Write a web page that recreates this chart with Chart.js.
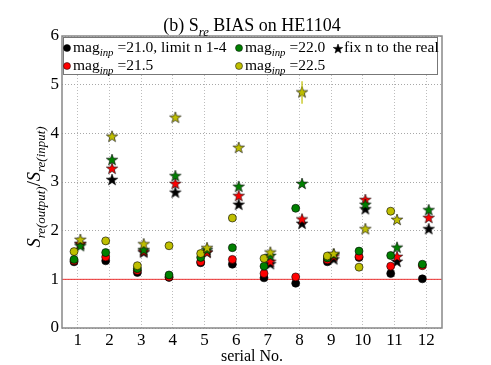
<!DOCTYPE html>
<html>
<head>
<meta charset="utf-8">
<script src="https://cdn.jsdelivr.net/npm/chart.js@4/dist/chart.umd.min.js"></script>
<style>
  body { margin: 0; background: #fff; }
  #wrap { width: 491px; height: 365px; }
</style>
</head>
<body>
<div id="wrap"><canvas id="chart" width="491" height="365"></canvas></div>
<script>
const serial = [1, 2, 3, 4, 5, 6, 7, 8, 9, 10, 11, 12];
const yTicks = [0, 1, 2, 3, 4, 5, 6];

// circles: free n (limit n 1-4)
const circ210 = [1.36, 1.38, 1.14, 1.04, 1.34, 1.31, 1.03, 0.92, 1.36, 1.45, 1.12, 1.01];
const circ215 = [1.38, 1.46, 1.18, 1.05, 1.36, 1.41, 1.12, 1.05, 1.40, 1.47, 1.27, 1.28];
const circ220 = [1.41, 1.55, 1.22, 1.09, 1.45, 1.65, 1.27, 2.46, 1.44, 1.58, 1.49, 1.31];
const circ225 = [1.57, 1.79, 1.28, 1.69, 1.53, 2.26, 1.43, null, 1.48, 1.25, 2.40, null];

// stars: fix n to the real
const star210 = [1.72, 3.04, 1.55, 2.78, 1.55, 2.53, 1.31, 2.14, 1.41, 2.44, 1.36, 2.03];
const star215 = [1.72, 3.27, 1.57, 2.96, 1.55, 2.71, 1.36, 2.23, 1.47, 2.63, 1.46, 2.26];
const star220 = [1.68, 3.45, 1.60, 3.12, 1.60, 2.90, 1.48, 2.96, 1.50, 2.53, 1.65, 2.42];
const star225 = [1.81, 3.93, 1.72, 4.32, 1.64, 3.70, 1.55, 4.84, 1.52, 2.03, 2.22, null];
const star225Err = [0, 0, 0, 0, 0, 0, 0, 0.23, 0, 0, 0, 0];
const circ220Err = [0, 0, 0, 0, 0, 0, 0, 0.06, 0, 0, 0, 0];

const COL = { k: "#000000", r: "#ff0000", g: "#008000", y: "#bfbf00" };
const SERIF = '"Liberation Serif", "DejaVu Serif", serif';

function starImage(fill, r) {
  const c = document.createElement("canvas");
  const size = Math.ceil(r * 2 + 2);
  c.width = size;
  c.height = size;
  const g = c.getContext("2d");
  const cx = size / 2, cy = size / 2;
  g.beginPath();
  for (let i = 0; i < 10; i++) {
    const rad = i % 2 === 0 ? r : r * 0.4;
    const a = -Math.PI / 2 + (i * Math.PI) / 5;
    const px = cx + rad * Math.cos(a), py = cy + rad * Math.sin(a);
    if (i === 0) g.moveTo(px, py); else g.lineTo(px, py);
  }
  g.closePath();
  g.fillStyle = fill;
  g.fill();
  g.lineWidth = 0.6;
  g.strokeStyle = "#000";
  g.stroke();
  return c;
}

const pts = (arr, dx) => serial.map((s, i) => ({ x: s + dx, y: arr[i] }));

function circleSet(arr, color, order) {
  return {
    type: "scatter", data: pts(arr, -0.12), order,
    pointStyle: "circle", pointRadius: 4, pointHoverRadius: 4,
    backgroundColor: color, borderColor: "#000", borderWidth: 0.6
  };
}
function starSet(arr, color, order) {
  return {
    type: "scatter", data: pts(arr, 0.08), order,
    pointStyle: starImage(color, 6), pointRadius: 6,
    backgroundColor: color, borderColor: "#000"
  };
}

function drawRich(ctx, parts, x, y, size, align) {
  const subSize = size * 0.7;
  const fonts = parts.map((p) => p.sub ? `italic ${subSize}px ${SERIF}` : `${p.it ? "italic " : ""}${size}px ${SERIF}`);
  let total = 0;
  const widths = parts.map((p, i) => { ctx.font = fonts[i]; const w = ctx.measureText(p.t).width; total += w; return w; });
  let cx = align === "center" ? x - total / 2 : x;
  ctx.textAlign = "left";
  ctx.textBaseline = "alphabetic";
  parts.forEach((p, i) => {
    ctx.font = fonts[i];
    ctx.fillText(p.t, cx, p.sub ? y + size * 0.25 : y);
    cx += widths[i];
  });
}

const decor = {
  id: "decor",
  afterDatasetsDraw(chart) {
    const { ctx, scales: { x, y } } = chart;
    ctx.save();
    const bars = [[star225, star225Err, 0.08, COL.y], [circ220, circ220Err, -0.12, COL.g]];
    for (const [vals, errs, dx, col] of bars) {
      vals.forEach((v, i) => {
        if (v == null || !errs[i]) return;
        const px = x.getPixelForValue(serial[i] + dx);
        ctx.strokeStyle = col;
        ctx.lineWidth = 1.2;
        ctx.beginPath();
        ctx.moveTo(px, y.getPixelForValue(v - errs[i]));
        ctx.lineTo(px, y.getPixelForValue(v + errs[i]));
        ctx.stroke();
      });
    }
    ctx.restore();
  },
  afterDraw(chart) {
    const { ctx, chartArea: a } = chart;
    ctx.save();
    // frame
    ctx.strokeStyle = "#888";
    ctx.lineWidth = 1.5;
    ctx.strokeRect(a.left, a.top, a.right - a.left, a.bottom - a.top);

    // legend box
    const lx = a.left + 1, ly = a.top + 1, lw = 374, lh = 37;
    ctx.fillStyle = "#fff";
    ctx.fillRect(lx, ly, lw, lh);
    ctx.strokeStyle = "#777";
    ctx.lineWidth = 1;
    ctx.strokeRect(lx + 0.5, ly + 0.5, lw, lh);

    const rows = [a.top + 14, a.top + 32];
    const dot = (cx, cy, col) => {
      ctx.beginPath();
      ctx.arc(cx, cy, 3.5, 0, Math.PI * 2);
      ctx.fillStyle = col;
      ctx.fill();
      ctx.lineWidth = 0.5;
      ctx.strokeStyle = "#000";
      ctx.stroke();
    };
    const entry = (mx, row, col, val) => {
      dot(mx, rows[row] - 2, col);
      ctx.fillStyle = "#000";
      drawRich(ctx, [{ t: "mag" }, { t: "inp", sub: true }, { t: " =" + val }], mx + 6, rows[row] + 2, 15.5, "left");
    };
    entry(a.left + 5, 0, COL.k, "21.0, limit n 1-4");
    entry(a.left + 5, 1, COL.r, "21.5");
    entry(a.left + 177, 0, COL.g, "22.0");
    entry(a.left + 177, 1, COL.y, "22.5");
    const st = starImage("#000", 5);
    ctx.drawImage(st, a.left + 276 - st.width / 2, rows[0] - 1 - st.height / 2);
    ctx.fillStyle = "#000";
    drawRich(ctx, [{ t: "fix n to the real" }], a.left + 282, rows[0] + 2, 15.5, "left");

    // title
    drawRich(ctx, [{ t: "(b) S" }, { t: "re", sub: true }, { t: " BIAS on HE1104" }], (a.left + a.right) / 2, 31, 18, "center");

    // x title
    ctx.font = `16px ${SERIF}`;
    ctx.textAlign = "center";
    ctx.textBaseline = "alphabetic";
    ctx.fillStyle = "#000";
    ctx.fillText("serial No.", (a.left + a.right) / 2, 361);

    // y title
    ctx.translate(40, (a.top + a.bottom) / 2 + 5);
    ctx.rotate(-Math.PI / 2);
    drawRich(ctx, [{ t: "S", it: true }, { t: "re(output)", sub: true }, { t: "/" }, { t: "S", it: true }, { t: "re(input)", sub: true }], 0, 0, 18.5, "center");
    ctx.restore();
  }
};

new Chart(document.getElementById("chart"), {
  data: {
    datasets: [
      {
        type: "line", data: [{ x: 0.5, y: 1 }, { x: 12.5, y: 1 }], order: 20,
        borderColor: "#e33", borderWidth: 1, pointRadius: 0, pointHoverRadius: 0
      },
      circleSet(circ210, COL.k, 14),
      starSet(star210, COL.k, 13),
      circleSet(circ215, COL.r, 12),
      starSet(star215, COL.r, 11),
      circleSet(circ220, COL.g, 10),
      starSet(star220, COL.g, 9),
      circleSet(circ225, COL.y, 8),
      starSet(star225, COL.y, 7)
    ]
  },
  options: {
    responsive: false,
    devicePixelRatio: 1,
    animation: false,
    events: [],
    layout: { padding: { top: 36, right: 49, left: 0, bottom: 0 } },
    plugins: { legend: { display: false }, tooltip: { enabled: false } },
    scales: {
      x: {
        type: "linear", min: 0.5, max: 12.5,
        afterBuildTicks: (s) => { s.ticks = serial.map((v) => ({ value: v })); },
        afterFit: (s) => { s.height = 37; },
        grid: { color: "#bdbdbd", lineWidth: 1, drawTicks: false },
        border: { display: false, dash: [1, 2] },
        ticks: { color: "#000", padding: 2, font: { family: SERIF, size: 17 }, maxRotation: 0 }
      },
      y: {
        type: "linear", min: 0, max: 6,
        afterBuildTicks: (s) => { s.ticks = yTicks.map((v) => ({ value: v })); },
        afterFit: (s) => { s.width = 62; },
        grid: { color: "#a8a8a8", lineWidth: 1, drawTicks: false },
        border: { display: false, dash: [1, 2] },
        ticks: { color: "#000", padding: 3, font: { family: SERIF, size: 17 } }
      }
    }
  },
  plugins: [decor]
});
</script>
</body>
</html>
